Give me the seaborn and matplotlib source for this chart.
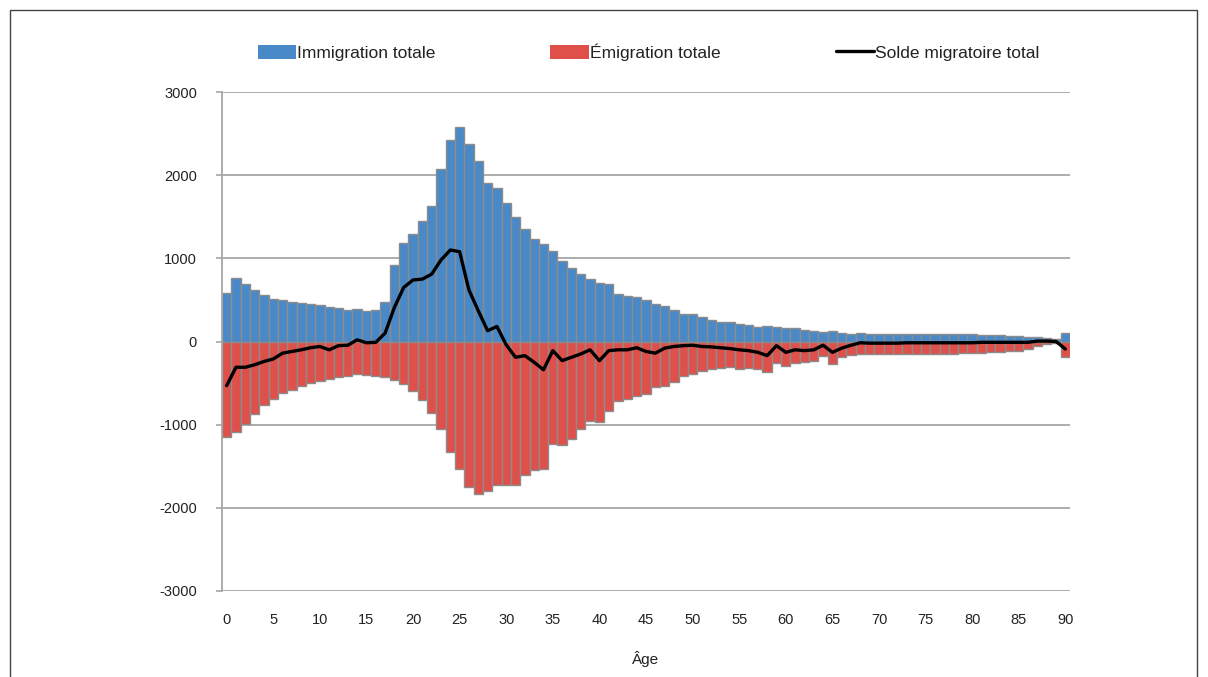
import numpy as np
import pandas as pd
import seaborn as sns
import matplotlib
matplotlib.use("Agg")
import matplotlib.pyplot as plt
from matplotlib.patches import Patch, Rectangle
from matplotlib.lines import Line2D

# ---------------- data ----------------
ages = list(range(91))

immigration = [
    580, 760, 690, 620, 560, 510, 500, 480, 460, 450,          # 0-9
    440, 420, 400, 380, 390, 370, 380, 470, 920, 1190,         # 10-19
    1290, 1450, 1630, 2080, 2420, 2580, 2370, 2170, 1900, 1845,  # 20-29
    1670, 1500, 1350, 1230, 1170, 1090, 970, 880, 810, 750,    # 30-39
    700, 690, 570, 550, 530, 500, 455, 430, 375, 335,          # 40-49
    325, 290, 255, 235, 240, 210, 195, 180, 190, 172,          # 50-59
    165, 165, 140, 132, 115, 122, 100, 95, 100, 95,            # 60-69
    95, 95, 95, 95, 95, 90, 90, 90, 90, 85,                    # 70-79
    85, 80, 80, 75, 70, 65, 60, 50, 40, 30,                    # 80-89
    100,                                                       # 90
]

emigration = [
    -1150, -1090, -990, -870, -760, -690, -620, -580, -540, -500,     # 0-9
    -470, -450, -430, -410, -390, -400, -420, -430, -460, -510,       # 10-19
    -590, -700, -860, -1050, -1330, -1530, -1750, -1830, -1800, -1720,  # 20-29
    -1720, -1730, -1600, -1540, -1530, -1230, -1250, -1170, -1050, -950,  # 30-39
    -970, -830, -710, -690, -650, -630, -550, -530, -490, -410,       # 40-49
    -390, -350, -330, -320, -310, -330, -320, -330, -370, -260,       # 50-59
    -300, -260, -250, -240, -170, -270, -190, -160, -150, -150,       # 60-69
    -150, -150, -150, -150, -150, -150, -150, -150, -150, -140,       # 70-79
    -140, -140, -130, -130, -120, -110, -90, -50, -30, -20,           # 80-89
    -190,                                                             # 90
]

solde = [
    -530, -310, -310, -280, -240, -210, -140, -120, -100, -75,        # 0-9
    -60, -100, -50, -45, 20, -15, -10, 100, 410, 650,                 # 10-19
    740, 750, 810, 980, 1100, 1080, 620, 370, 130, 180,               # 20-29
    -40, -190, -170, -250, -340, -110, -230, -190, -150, -100,        # 30-39
    -230, -110, -100, -100, -75, -120, -140, -80, -60, -50,           # 40-49
    -45, -60, -65, -75, -85, -100, -110, -130, -170, -50,             # 50-59
    -130, -100, -110, -100, -45, -130, -80, -45, -15, -20,            # 60-69
    -20, -20, -20, -15, -15, -15, -15, -15, -15, -15,                 # 70-79
    -15, -10, -10, -10, -10, -10, -10, 5, 5, 0,                       # 80-89
    -90,                                                              # 90
]

x_ticks = list(range(0, 91, 5))
y_ticks = [-3000, -2000, -1000, 0, 1000, 2000, 3000]
labels = ["Immigration totale", "Émigration totale", "Solde migratoire total"]
x_title = "Âge"

# ---------------- style ----------------
BLUE = "#4a89c8"
RED = "#e0504b"
EDGE = "#8c8c8c"
GRID = "#a6a6a6"
TXT = "#222222"

sns.set_theme(style="white")
plt.rcParams["font.family"] = ["Liberation Sans", "DejaVu Sans"]

W, H = 1208, 677
fig = plt.figure(figsize=(W / 100, H / 100), dpi=100)
fig.patch.set_facecolor("white")

left, right, top, bottom = 222, 1070, 92, 591
ax = fig.add_axes([left / W, 1 - bottom / H, (right - left) / W, (bottom - top) / H])

df = pd.DataFrame({"age": ages, "immigration": immigration,
                   "emigration": emigration, "solde": solde})

sns.barplot(data=df, x="age", y="immigration", color=BLUE, saturation=1,
            width=1.0, edgecolor=EDGE, linewidth=1.0, ax=ax, zorder=2)
sns.barplot(data=df, x="age", y="emigration", color=RED, saturation=1,
            width=1.0, edgecolor=EDGE, linewidth=1.0, ax=ax, zorder=2)
sns.lineplot(data=df, x="age", y="solde", color="black", linewidth=2.4,
             ax=ax, zorder=3)

ax.set_xlim(-0.5, 90.5)
ax.set_ylim(-3000, 3000)
ax.set_yticks(y_ticks)
ax.set_yticklabels([str(v) for v in y_ticks])
ax.set_xticks(x_ticks)
ax.set_xticklabels([str(v) for v in x_ticks])

ax.yaxis.grid(True, color=GRID, linewidth=1.3)
ax.xaxis.grid(False)
ax.set_axisbelow(True)

for s in ["top", "right", "bottom"]:
    ax.spines[s].set_visible(False)
ax.spines["left"].set_color(GRID)
ax.spines["left"].set_linewidth(1.3)

ax.tick_params(axis="y", which="both", left=True, length=4, width=1.2,
               color=GRID, pad=14, labelsize=10.5, labelcolor=TXT)
ax.tick_params(axis="x", which="both", bottom=False, length=0, pad=16,
               labelsize=10.5, labelcolor=TXT)

ax.set_xlabel(x_title, fontsize=11, color=TXT, labelpad=17)
ax.set_ylabel("")

handles = [Patch(facecolor=BLUE, edgecolor="none"),
           Patch(facecolor=RED, edgecolor="none"),
           Line2D([], [], color="black", linewidth=2.4)]
fig.legend(handles, labels, loc="center", bbox_to_anchor=(0.537, 1 - 52 / H),
           ncol=3, frameon=False, fontsize=12.5, handlelength=2.2,
           handleheight=0.9, handletextpad=0.1, columnspacing=6.6,
           labelcolor=TXT)

# outer border frame
fig.add_artist(Rectangle((10 / W, -0.05), (1197 - 10) / W, 1.05 - 10 / H,
                         transform=fig.transFigure, fill=False,
                         edgecolor="#444444", linewidth=1.0))

fig.savefig("out.png", dpi=100, facecolor="white")
